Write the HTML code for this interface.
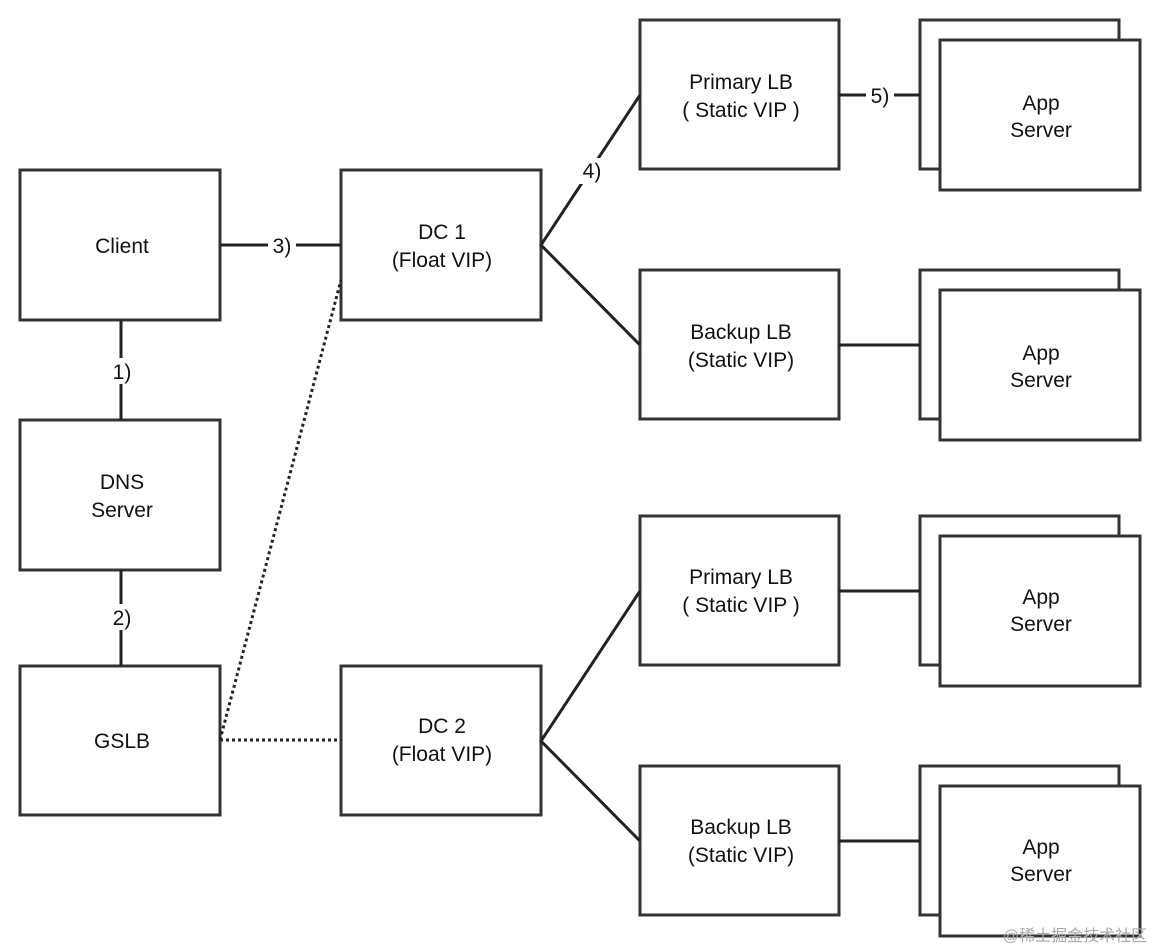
<!DOCTYPE html>
<html><head><style>
body{margin:0;background:#fff}
svg{display:block}
text{font-family:"Liberation Sans",Arial,sans-serif;font-size:21px;fill:#111;text-anchor:middle}
</style></head><body>
<svg width="1160" height="952" viewBox="0 0 1160 952">
<g fill="#fff" stroke="#333" stroke-width="3">
<rect x="20" y="170" width="200" height="150"/>
<rect x="20" y="420" width="200" height="150"/>
<rect x="20" y="666" width="200" height="149"/>
<rect x="341" y="170" width="200" height="150"/>
<rect x="341" y="666" width="200" height="149"/>
<rect x="640" y="20" width="199" height="149"/>
<rect x="640" y="270" width="199" height="149"/>
<rect x="640" y="516" width="199" height="149"/>
<rect x="640" y="766" width="199" height="149"/>
<rect x="920" y="20" width="199" height="149"/><rect x="940" y="40" width="200" height="150"/>
<rect x="920" y="270" width="199" height="149"/><rect x="940" y="290" width="200" height="150"/>
<rect x="920" y="516" width="199" height="149"/><rect x="940" y="536" width="200" height="150"/>
<rect x="920" y="766" width="199" height="149"/><rect x="940" y="786" width="200" height="150"/>
</g>
<g stroke="#222" stroke-width="3" fill="none">
<line x1="220" y1="245" x2="341" y2="245"/>
<line x1="121" y1="320" x2="121" y2="420"/>
<line x1="121" y1="570" x2="121" y2="666"/>
<polyline points="640,95 541,245 640,345"/>
<polyline points="640,591 541,741 640,841"/>
<line x1="839" y1="95" x2="920" y2="95"/>
<line x1="839" y1="345" x2="920" y2="345"/>
<line x1="839" y1="591" x2="920" y2="591"/>
<line x1="839" y1="841" x2="920" y2="841"/>
<g stroke-dasharray="3,3"><line x1="220" y1="740" x2="341" y2="280"/><line x1="220" y1="740" x2="341" y2="740"/></g>
</g>
<g fill="#fff">
<rect x="268" y="232" width="28" height="26"/><rect x="108" y="358" width="28" height="26"/>
<rect x="108" y="604" width="28" height="26"/><rect x="578" y="158" width="28" height="26"/>
<rect x="866" y="82" width="28" height="26"/>
</g>
<text x="282" y="253">3)</text><text x="122" y="379">1)</text><text x="122" y="625">2)</text>
<text x="592" y="178">4)</text><text x="880" y="103">5)</text>
<text x="122" y="253">Client</text>
<text x="122" y="489">DNS</text><text x="122" y="517">Server</text>
<text x="122" y="748">GSLB</text>
<text x="442" y="239">DC 1</text><text x="442" y="267">(Float VIP)</text>
<text x="442" y="733">DC 2</text><text x="442" y="761">(Float VIP)</text>
<text x="741" y="89">Primary LB</text><text x="741" y="117">( Static VIP )</text>
<text x="741" y="339">Backup LB</text><text x="741" y="367">(Static VIP)</text>
<text x="741" y="584">Primary LB</text><text x="741" y="612">( Static VIP )</text>
<text x="741" y="834">Backup LB</text><text x="741" y="862">(Static VIP)</text>
<text x="1041" y="110">App</text><text x="1041" y="137">Server</text>
<text x="1041" y="360">App</text><text x="1041" y="387">Server</text>
<text x="1041" y="604">App</text><text x="1041" y="631">Server</text>
<text x="1041" y="854">App</text><text x="1041" y="881">Server</text>
<text x="1075" y="941" style="font-size:16px;fill:#aaa;font-family:'Liberation Sans','Noto Sans CJK SC',sans-serif">@稀土掘金技术社区</text>
</svg>
</body></html>
